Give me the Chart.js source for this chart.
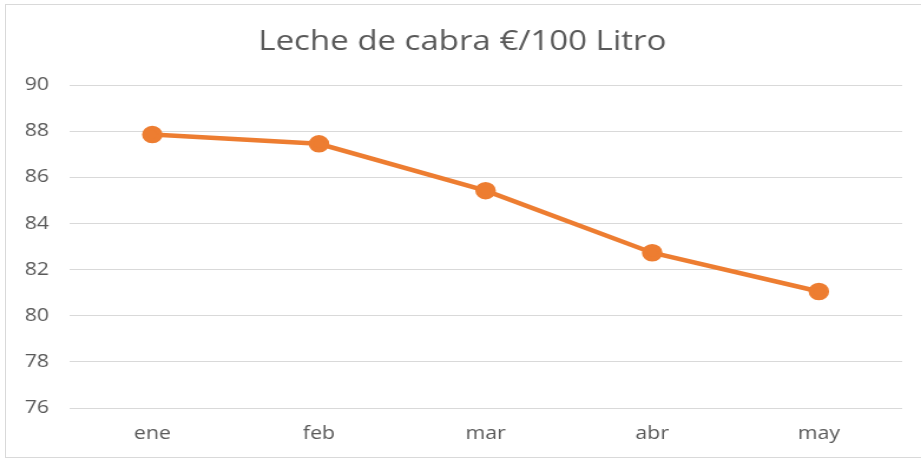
<!DOCTYPE html>
<html>
<head>
<meta charset="utf-8">
<script src="https://cdn.jsdelivr.net/npm/chart.js@4"></script>
<style>
  body { margin: 0; background: #fff; overflow: hidden; }
  #frame { position: absolute; left: 5px; top: 4px; width: 930px; height: 452px; border: 1px solid #d9d9d9; }
  /* the reference is stretched sideways, so draw narrower and scale up */
  #wrap { position: absolute; left: 0; top: 0; width: 781px; height: 459px; transform: scaleX(1.1793); transform-origin: 0 0; }
</style>
</head>
<body>
<div id="frame"></div>
<div id="wrap"><canvas id="myChart"></canvas></div>
<script>
var months = ["ene", "feb", "mar", "abr", "may"];
var prices = [87.85, 87.45, 85.42, 82.73, 81.05];
var yTicks = [76, 78, 80, 82, 84, 86, 88, 90];

var ctx = document.getElementById("myChart");
var myChart = new Chart(ctx, {
	type: 'line',
	data: {
		labels: months,
		datasets: [{
			label: 'Leche de cabra',
			data: prices,
			borderColor: '#ed7d31',
			backgroundColor: '#ed7d31',
			borderWidth: 4.5,
			pointRadius: 6.5,
			pointHoverRadius: 6.5,
			tension: 0
		}]
	},
	options: {
		responsive: true,
		maintainAspectRatio: false,
		animation: false,
		layout: {
			padding: { top: 13, left: 19, right: 16, bottom: 14.4 }
		},
		plugins: {
			legend: { display: false },
			tooltip: { enabled: false },
			title: {
				display: true,
				text: 'Leche de cabra €/100 Litro',
				color: '#595959',
				font: { family: 'Open Sans', size: 28, weight: 'normal' },
				padding: { top: 12, bottom: 26.4 }
			}
		},
		scales: {
			x: {
				offset: true,
				afterFit: function(axis) { axis.height = 36.6; },
				grid: { display: false, drawTicks: false },
				border: { display: false },
				ticks: {
					color: '#595959',
					font: { family: 'Open Sans', size: 18 },
					padding: 15,
					maxRotation: 0
				}
			},
			y: {
				min: 76,
				max: 90,
				afterFit: function(axis) { axis.width = 39.5; },
				afterBuildTicks: function(axis) {
					axis.ticks = yTicks.map(function(v) { return { value: v }; });
				},
				grid: { color: '#d9d9d9', lineWidth: 1, drawTicks: false },
				border: { display: false },
				ticks: {
					color: '#595959',
					font: { family: 'Open Sans', size: 18 },
					padding: 17
				}
			}
		}
	}
});
</script>
</body>
</html>
